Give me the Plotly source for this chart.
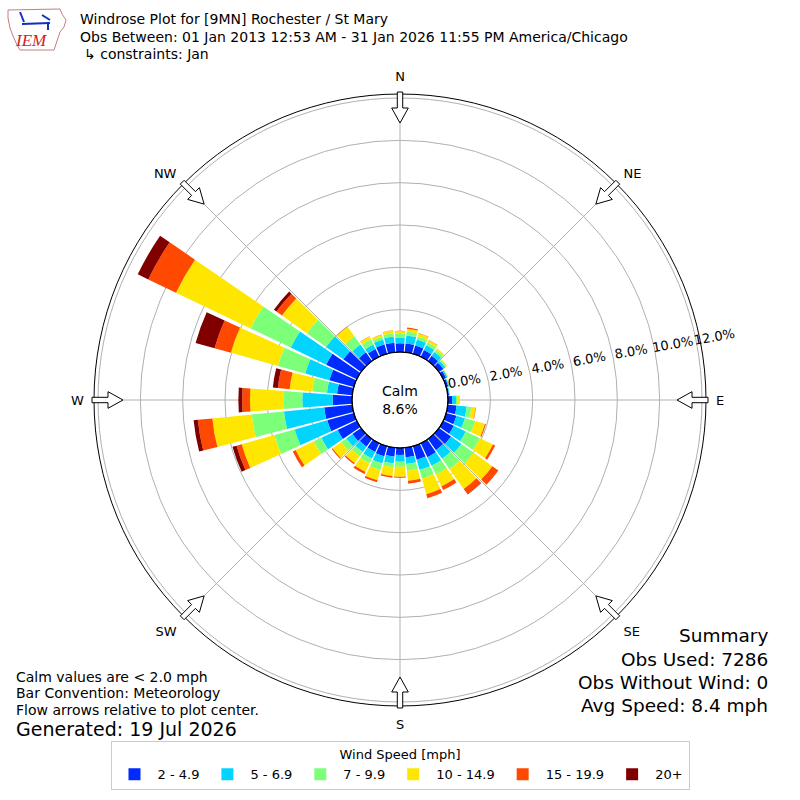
import math
import plotly.graph_objects as go

# direction bins (degrees) and percent of obs per speed bin
directions = list(range(0, 360, 10))

speed_2_5 = [0.41, 0.42, 0.40, 0.35, 0.30, 0.25, 0.15, 0.10, 0.06,
             0.20, 0.42, 0.50, 0.55, 0.70, 0.65, 0.73, 0.66, 0.45,
             0.33, 0.42, 0.49, 0.45, 0.45, 0.50, 1.00, 1.30, 1.33,
             0.91, 0.72, 1.20, 1.60, 1.03, 0.50, 0.41, 0.45, 0.45]
speed_5_7 = [0.27, 0.38, 0.30, 0.25, 0.22, 0.12, 0.07, 0.04, 0.03,
             0.18, 0.48, 0.42, 0.63, 0.60, 0.50, 0.45, 0.51, 0.32,
             0.32, 0.32, 0.35, 0.35, 0.30, 0.35, 0.85, 1.60, 1.91,
             1.44, 0.48, 1.18, 1.86, 1.00, 0.45, 0.23, 0.25, 0.30]
speed_7_10 = [0.19, 0.18, 0.15, 0.15, 0.12, 0.06, 0.03, 0.02, 0.01,
              0.06, 0.22, 0.50, 0.74, 0.70, 0.60, 0.46, 0.42, 0.32,
              0.23, 0.19, 0.33, 0.25, 0.25, 0.30, 0.40, 1.00, 1.53,
              0.87, 0.69, 1.34, 2.10, 1.12, 0.48, 0.27, 0.13, 0.15]
speed_10_15 = [0.12, 0.14, 0.15, 0.11, 0.08, 0.05, 0.02, 0.00, 0.00,
               0.13, 0.20, 0.48, 0.68, 1.10, 1.15, 0.62, 0.76, 0.48,
               0.48, 0.41, 0.50, 0.45, 0.40, 0.50, 0.95, 1.60, 1.87,
               1.60, 1.08, 2.31, 3.91, 1.44, 0.56, 0.15, 0.10, 0.13]
speed_15_20 = [0.01, 0.05, 0.02, 0.02, 0.01, 0.00, 0.00, 0.00, 0.00,
               0.00, 0.02, 0.05, 0.12, 0.35, 0.30, 0.19, 0.20, 0.14,
               0.05, 0.08, 0.10, 0.11, 0.07, 0.05, 0.15, 0.25, 0.69,
               0.37, 0.56, 0.80, 1.45, 0.32, 0.02, 0.01, 0.01, 0.01]
speed_20p = [0.00, 0.00, 0.00, 0.00, 0.00, 0.00, 0.00, 0.00, 0.00,
             0.00, 0.00, 0.00, 0.00, 0.00, 0.02, 0.00, 0.00, 0.00,
             0.00, 0.00, 0.00, 0.00, 0.00, 0.00, 0.00, 0.20, 0.20,
             0.18, 0.24, 0.93, 0.55, 0.15, 0.00, 0.00, 0.00, 0.00]

speed_labels = ["2 - 4.9", "5 - 6.9", "7 - 9.9", "10 - 14.9", "15 - 19.9", "20+"]
speed_colors = ["#002BFF", "#00D4FF", "#7CFF79", "#FFE600", "#FF4900", "#800000"]
speed_values = [speed_2_5, speed_5_7, speed_7_10, speed_10_15, speed_15_20, speed_20p]

calm_pct = 8.6
ring_vals = [0, 2, 4, 6, 8, 10, 12]
compass_angles = [0, 45, 90, 135, 180, 225, 270, 315]
compass_labels = ["N", "NE", "E", "SE", "S", "SW", "W", "NW"]

W = H = 800
CX, CY = 400, 400
R_OUT = 306
R_HOLE = 48
FONT = "DejaVu Sans"


def px(x, y):
    return x / W, 1 - y / H


fig = go.Figure()
for vals, lab, col in zip(speed_values, speed_labels, speed_colors):
    fig.add_trace(go.Barpolar(r=vals, theta=directions, name=lab, width=8.8,
                              marker=dict(color=col, line=dict(width=0))))

x0, y0 = px(CX - R_OUT, CY + R_OUT)
x1, y1 = px(CX + R_OUT, CY - R_OUT)

fig.update_layout(
    width=W, height=H,
    margin=dict(l=0, r=0, t=0, b=0),
    paper_bgcolor="white",
    font=dict(family=FONT, size=13, color="black"),
    polar=dict(
        domain=dict(x=[x0, x1], y=[y0, y1]),
        bgcolor="white",
        hole=R_HOLE / R_OUT,
        barmode="stack",
        radialaxis=dict(range=[0, (R_OUT - R_HOLE) / ((302 - R_HOLE) / 12)],
                        tickmode="array", tickvals=ring_vals,
                        ticktext=["\u00a0" * 9 + f"{v:.1f}%" for v in ring_vals],
                        angle=10, tickangle=0, side="counterclockwise",
                        showline=False, ticks="",
                        gridcolor="#b0b0b0", gridwidth=1,
                        layer="above traces",
                        tickfont=dict(size=13)),
        angularaxis=dict(rotation=90, direction="clockwise",
                         tickmode="array", tickvals=compass_angles,
                         ticktext=compass_labels,
                         showline=True, linecolor="black", linewidth=1,
                         gridcolor="#b0b0b0", gridwidth=1,
                         ticks="outside", ticklen=7,
                         tickcolor="rgba(0,0,0,0)",
                         layer="above traces",
                         tickfont=dict(size=13)),
    ),
    legend=dict(orientation="h", x=0.5, xanchor="center", y=0.012, yanchor="bottom",
                bordercolor="#cccccc", borderwidth=1, bgcolor="white",
                title=dict(text="Wind Speed [mph]", side="top center",
                           font=dict(size=13)),
                font=dict(size=13), itemwidth=36),
    showlegend=True,
)

shapes = []
# calm circle edge
hx0, hy0 = px(CX - R_HOLE, CY + R_HOLE)
hx1, hy1 = px(CX + R_HOLE, CY - R_HOLE)
shapes.append(dict(type="circle", xref="paper", yref="paper", x0=hx0, y0=hy0,
                   x1=hx1, y1=hy1, line=dict(color="black", width=1.2)))

# flow arrows on the frame
arrow_pts = [(308, -2.7), (292, -2.7), (292, -8.3), (277, 0),
             (292, 8.3), (292, 2.7), (308, 2.7)]
for ang in compass_angles:
    t = math.radians(ang)
    pts = []
    for r, w in arrow_pts:
        x = CX + r * math.sin(t) + w * math.cos(t)
        y = CY - r * math.cos(t) + w * math.sin(t)
        pts.append(px(x, y))
    path = "M " + " L ".join(f"{a:.5f},{b:.5f}" for a, b in pts) + " Z"
    shapes.append(dict(type="path", xref="paper", yref="paper", path=path,
                       fillcolor="white", line=dict(color="black", width=1)))

# IEM logo outline (rough Iowa shape)
iowa = [(8, 10), (60, 9), (62, 14), (66, 20), (64, 27), (60, 32), (58, 38),
        (56, 44), (54, 50), (20, 50), (17, 45), (13, 36), (10, 28), (8, 18)]
path = "M " + " L ".join("{:.5f},{:.5f}".format(*px(a, b)) for a, b in iowa) + " Z"
shapes.append(dict(type="path", xref="paper", yref="paper", path=path,
                   line=dict(color="#c08080", width=1)))
bx0, by0 = px(22, 24)
bx1, by1 = px(50, 23)
shapes.append(dict(type="line", xref="paper", yref="paper", x0=bx0, y0=by0,
                   x1=bx1, y1=by1, line=dict(color="#1030c0", width=2)))
for (a, b, c, d) in [(20, 12, 24, 22), (42, 15, 50, 20), (48, 22, 48, 30)]:
    p0 = px(a, b)
    p1 = px(c, d)
    shapes.append(dict(type="line", xref="paper", yref="paper", x0=p0[0], y0=p0[1],
                       x1=p1[0], y1=p1[1], line=dict(color="#1030c0", width=2)))
fig.update_layout(shapes=shapes)

ann = []


def text(x, y, s, size=13, xanchor="left", **kw):
    ax, ay = px(x, y)
    ann.append(dict(x=ax, y=ay, xref="paper", yref="paper", text=s, showarrow=False,
                    xanchor=xanchor, yanchor="middle", font=dict(size=size, **kw)))


text(78, 19, "Windrose Plot for [9MN] Rochester / St Mary", 14)
text(78, 37, "Obs Between: 01 Jan 2013 12:53 AM - 31 Jan 2026 11:55 PM America/Chicago", 14)
text(82, 54, "\u21b3 constraints: Jan", 14)
text(31, 40, "<i>IEM</i>", 17, xanchor="center", family="Liberation Serif", color="#d02020")

ann.append(dict(x=0.5, y=0.5, xref="paper", yref="paper", showarrow=False,
                text="Calm<br>%.1f%%" % calm_pct, font=dict(size=14)))

text(14, 677, "Calm values are < 2.0 mph", 14)
text(14, 693, "Bar Convention: Meteorology", 14)
text(14, 710, "Flow arrows relative to plot center.", 14)
text(14, 729, "Generated: 19 Jul 2026", 19)

text(770, 635, "Summary", 18.5, xanchor="right")
text(770, 659, "Obs Used: 7286", 18.5, xanchor="right")
text(770, 682, "Obs Without Wind: 0", 18.5, xanchor="right")
text(770, 705, "Avg Speed: 8.4 mph", 18.5, xanchor="right")
fig.update_layout(annotations=ann)

fig.write_html("out.html", config={"displayModeBar": False},
               post_script="document.body.style.margin='0px';")
